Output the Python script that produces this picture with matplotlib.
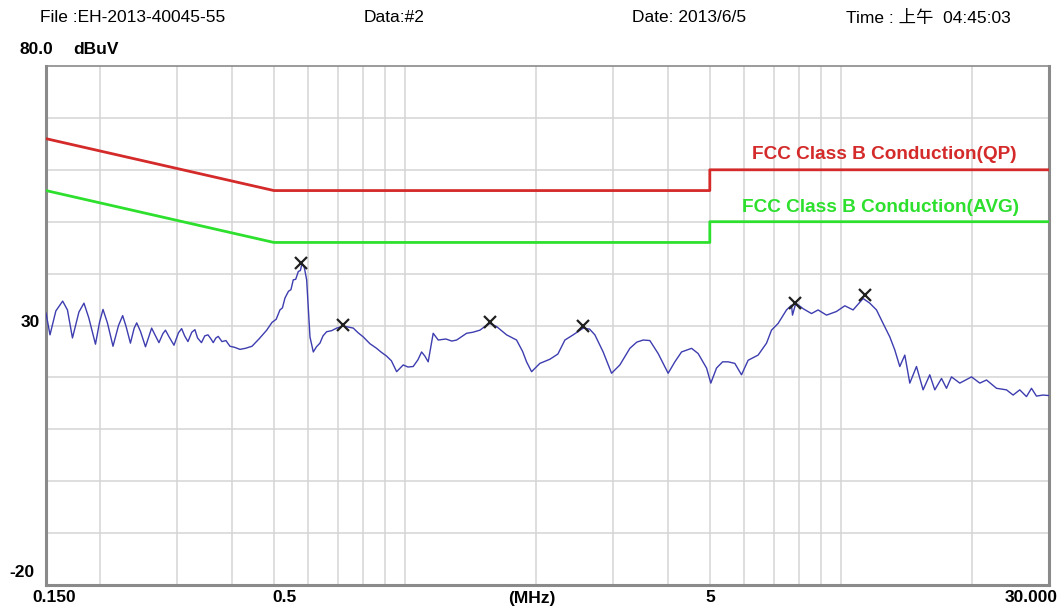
import matplotlib
matplotlib.use("Agg")
import matplotlib.pyplot as plt
import matplotlib.transforms as mtransforms

plt.rcParams['font.family'] = ['Liberation Sans', 'Noto Sans CJK SC', 'DejaVu Sans']

# ---- data ----
freq_mhz = [0.150, 0.1532, 0.1580, 0.1638, 0.1680, 0.1725, 0.1785, 0.1833, 0.1880, 0.1948,
            0.1990, 0.2027, 0.2075, 0.2137, 0.2200, 0.2249, 0.2290, 0.2343, 0.2390, 0.2422,
            0.2470, 0.2537, 0.2590, 0.2621, 0.2660, 0.2724, 0.2780, 0.2819, 0.2870, 0.2949,
            0.3020, 0.3071, 0.3120, 0.3175, 0.3240, 0.3294, 0.3340, 0.3410, 0.3470, 0.3529,
            0.3580, 0.3629, 0.3680, 0.3726, 0.3800, 0.3880, 0.3964, 0.4060, 0.4179, 0.4300,
            0.4453, 0.4620, 0.4813, 0.4950, 0.5060, 0.5162, 0.5230, 0.5301, 0.5400, 0.5470,
            0.5538, 0.5610, 0.5687, 0.5750, 0.5799, 0.5870, 0.5944, 0.6049, 0.6156, 0.6260,
            0.6376, 0.6480, 0.6606, 0.6780, 0.6966, 0.7212, 0.7400, 0.7603, 0.7800, 0.8016,
            0.8300, 0.8601, 0.8800, 0.9068, 0.9300, 0.9561, 0.9899, 1.0150, 1.0435, 1.0700,
            1.0909, 1.1100, 1.1295, 1.1598, 1.1910, 1.2400, 1.2800, 1.3125, 1.3836, 1.4300,
            1.4842, 1.5300, 1.5645, 1.6209, 1.7089, 1.8015, 1.8600, 1.8991, 1.9503, 2.0375,
            2.1483, 2.2409, 2.3254, 2.4294, 2.5611, 2.6500, 2.7245, 2.8464, 2.9757, 3.1089,
            3.2775, 3.4000, 3.5163, 3.6423, 3.8058, 4.0122, 4.1570, 4.3062, 4.5404, 4.7010,
            4.9146, 5.0267, 5.1806, 5.3500, 5.5077, 5.7065, 5.9112, 6.1218, 6.4536, 6.7467,
            6.9262, 7.1729, 7.4971, 7.6982, 7.7391, 7.8758, 8.2000, 8.5562, 8.8590, 9.2616,
            9.7631, 10.202, 10.658, 11.236, 11.641, 12.061, 12.488, 12.939, 13.283, 13.640,
            14.006, 14.381, 14.897, 15.428, 15.981, 16.410, 17.002, 17.455, 17.924, 18.726,
            19.924, 20.816, 21.567, 22.735, 23.965, 24.819, 25.708, 26.633, 27.348, 28.076,
            29.076, 30.000]
level_dbuv = [32.4, 28.2, 32.8, 34.7, 33.0, 27.6, 32.6, 34.3, 31.5, 26.4,
              30.6, 33.1, 30.5, 26.0, 30.0, 31.9, 29.8, 26.6, 29.5, 30.5,
              28.9, 25.9, 28.2, 29.5, 28.4, 26.7, 28.4, 29.1, 27.9, 26.2,
              28.6, 29.4, 28.0, 26.9, 28.7, 29.2, 27.6, 26.7, 28.0, 28.2,
              27.5, 26.7, 27.6, 27.9, 26.9, 27.1, 26.0, 25.8, 25.4, 25.6,
              26.0, 27.4, 29.1, 30.6, 31.2, 33.0, 33.4, 35.3, 36.6, 36.9,
              38.8, 38.9, 40.4, 40.6, 41.9, 41.2, 38.8, 27.8, 24.9, 25.9,
              26.6, 28.0, 28.8, 29.0, 29.5, 29.9, 29.7, 29.5, 28.6, 27.8,
              26.5, 25.6, 24.9, 24.1, 23.2, 21.1, 22.4, 22.0, 22.1, 23.4,
              24.9, 24.1, 23.0, 28.5, 27.2, 27.4, 27.0, 27.2, 28.5, 28.7,
              29.1, 29.9, 30.4, 29.8, 28.2, 27.2, 25.0, 23.0, 21.1, 22.7,
              23.5, 24.5, 27.2, 28.2, 29.5, 29.3, 28.2, 24.9, 20.8, 22.4,
              25.6, 26.8, 27.2, 27.1, 24.6, 20.8, 23.0, 24.9, 25.6, 24.6,
              21.8, 18.9, 21.8, 23.0, 23.0, 22.7, 20.5, 23.3, 24.3, 26.6,
              29.1, 30.4, 33.0, 33.9, 32.0, 34.3, 33.2, 32.3, 33.0, 32.0,
              32.7, 33.8, 33.0, 35.2, 34.3, 33.0, 30.4, 27.8, 25.3, 22.1,
              24.3, 18.9, 22.1, 17.6, 20.5, 17.6, 19.8, 17.9, 20.1, 18.9,
              20.1, 18.9, 19.5, 17.9, 17.6, 16.6, 17.6, 16.3, 17.9, 16.4,
              16.6, 16.5]

peak_freq = [0.577, 0.721, 1.565, 2.56, 7.83, 11.34]
peak_level = [42.0, 30.1, 30.7, 29.9, 34.3, 35.9]

qp_freq = [0.15, 0.5, 5.0, 5.0, 30.0]
qp_level = [66.0, 56.0, 56.0, 60.0, 60.0]
avg_freq = [0.15, 0.5, 5.0, 5.0, 30.0]
avg_level = [56.0, 46.0, 46.0, 50.0, 50.0]

x_grid = [0.2, 0.3, 0.4, 0.5, 0.6, 0.7, 0.8, 0.9, 1, 2, 3, 4, 5, 6, 7, 8, 9, 10, 20]
y_grid = [70, 60, 50, 40, 30, 20, 10, 0, -10]

header = ["File :EH-2013-40045-55", "Data:#2", "Date: 2013/6/5", "Time : 上午  04:45:03"]
qp_label = "FCC Class B Conduction(QP)"
avg_label = "FCC Class B Conduction(AVG)"

# ---- figure ----
W, H = 1062, 609
fig = plt.figure(figsize=(W / 100, H / 100), dpi=100)
ax = fig.add_axes([46 / W, 1 - 585 / H, (1049 - 46) / W, (585 - 66) / H])
ax.set_xscale('log')
ax.set_xlim(0.15, 30)
ax.set_ylim(-20, 80)

for xv in x_grid:
    ax.axvline(xv, color='#d4d4d4', lw=1.1, zorder=0)
for yv in y_grid:
    ax.axhline(yv, color='#d4d4d4', lw=1.1, zorder=0)

ax.set_xticks([])
ax.set_yticks([])
ax.minorticks_off()
for s in ax.spines.values():
    s.set_color('#8a8a8a')
    s.set_linewidth(1.2)
ax.spines['left'].set_linewidth(2.2)
ax.spines['bottom'].set_linewidth(2.2)
ax.spines['right'].set_linewidth(2.2)

ax.plot(qp_freq, qp_level, color='#d42a2a', lw=2.0, zorder=3)
ax.plot(avg_freq, avg_level, color='#2ee02e', lw=2.0, zorder=3)
ax.plot(freq_mhz, level_dbuv, color='#3d3db0', lw=1.0, zorder=4)
ax.plot(peak_freq, peak_level, 'x', color='#202020', ms=8, mew=1.6, zorder=5)

ax.text(25.3, 62.9, qp_label, color='#d42a2a', fontsize=13.7, fontweight='bold',
        ha='right', va='center')
ax.text(25.6, 52.8, avg_label, color='#2ee02e', fontsize=13.7, fontweight='bold',
        ha='right', va='center')

lab = dict(fontsize=12.5, fontweight='bold', ha='center', va='center')

# y labels
trans_y = mtransforms.blended_transform_factory(fig.transFigure, ax.transData)
fig.text(36 / W, 1 - 50 / H, "80.0", **lab)
fig.text(96 / W, 1 - 50 / H, "dBuV", **lab)
ax.text(30 / W, 30.6, "30", transform=trans_y, **lab)
ax.text(22 / W, -17.5, "-20", transform=trans_y, **lab)

# x labels
trans_x = mtransforms.blended_transform_factory(ax.transData, fig.transFigure)
xl_y = 1 - 598 / H
ax.text(0.157, xl_y, "0.150", transform=trans_x, **lab)
ax.text(0.53, xl_y, "0.5", transform=trans_x, **lab)
ax.text(1.95, xl_y, "(MHz)", transform=trans_x, **lab)
ax.text(5.0, xl_y, "5", transform=trans_x, **lab)
fig.text(1031 / W, xl_y, "30.000", **lab)

# header
hx = [40, 364, 632, 846]
for x, t in zip(hx, header):
    fig.text(x / W, 1 - 18 / H, t, fontsize=12.5, ha='left', va='center')

fig.savefig("out.png", dpi=100)
